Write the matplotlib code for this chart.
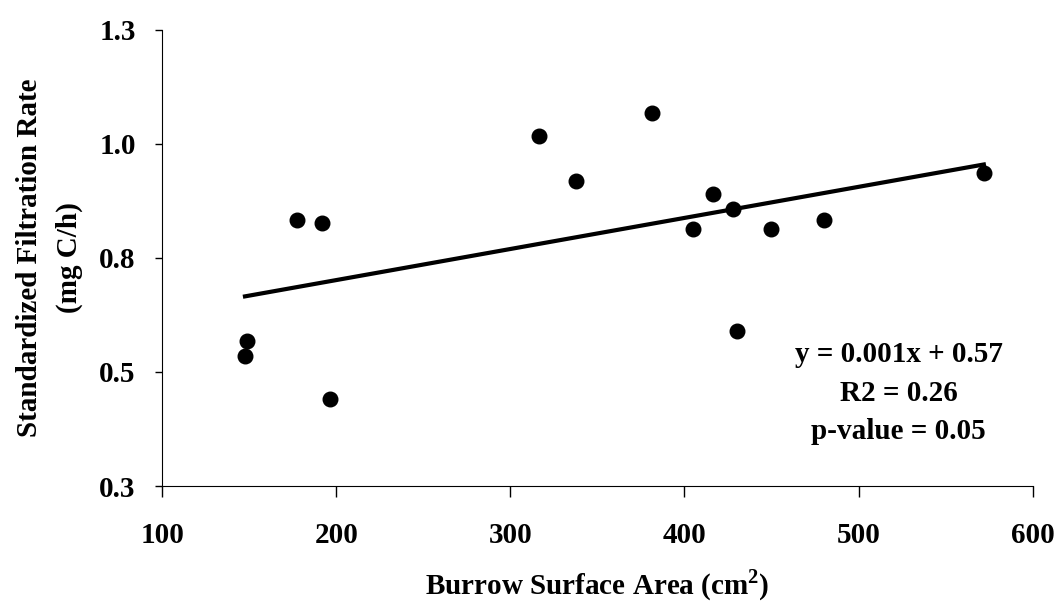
import numpy as np
import matplotlib
matplotlib.use('Agg')
import matplotlib.pyplot as plt

plt.rcParams['font.family'] = ['Liberation Serif', 'DejaVu Serif']
plt.rcParams['font.weight'] = 'bold'
plt.rcParams['mathtext.fontset'] = 'custom'
plt.rcParams['mathtext.rm'] = 'Liberation Serif'
plt.rcParams['mathtext.bf'] = 'Liberation Serif:bold'

# 数据：洞穴表面积 vs 标准化过滤速率
area = [147.6, 148.8, 177.3, 192.0, 196.6, 316.6, 337.7, 381.1,
        404.6, 416.4, 427.7, 430.4, 449.7, 480.0, 571.9]
rate = [0.536, 0.567, 0.833, 0.826, 0.441, 1.016, 0.918, 1.067,
        0.813, 0.889, 0.858, 0.589, 0.813, 0.833, 0.936]

x_ticks = [100, 200, 300, 400, 500, 600]
y_ticks = [0.25, 0.5, 0.75, 1.0, 1.25]
y_tick_labels = ['0.3', '0.5', '0.8', '1.0', '1.3']

fig = plt.figure(figsize=(10.56, 6.06), dpi=100)
ax = fig.add_axes([0.1535, 0.198, 0.8245, 0.753])

ax.scatter(area, rate, s=110, color='black', zorder=3)

# 线性拟合
k, b = np.polyfit(area, rate, 1)
xx = np.array([min(area), max(area)])
ax.plot(xx, k * xx + b, color='black', lw=3)

ax.set_xlim(100, 600)
ax.set_ylim(0.25, 1.25)
ax.set_xticks(x_ticks)
ax.set_yticks(y_ticks)
ax.set_yticklabels(y_tick_labels)
ax.tick_params(axis='both', labelsize=21, direction='out', width=1)
ax.tick_params(axis='x', length=8, pad=18)
ax.tick_params(axis='y', length=5, pad=14)

ax.spines['top'].set_visible(False)
ax.spines['right'].set_visible(False)

ax.set_xlabel('Burrow Surface Area (cm$^{\\mathbf{2}}$)', fontsize=21, fontweight='bold', labelpad=13)
ax.set_ylabel('Standardized Filtration Rate\n(mg C/h)', fontsize=21, fontweight='bold',
              labelpad=12, linespacing=1.6)

ax.text(0.846, 0.203, 'y = 0.001x + 0.57\nR2 = 0.26\np-value = 0.05',
        transform=ax.transAxes, ha='center', va='center', fontsize=21,
        fontweight='bold', linespacing=1.55)

fig.savefig('out.png', dpi=100)
